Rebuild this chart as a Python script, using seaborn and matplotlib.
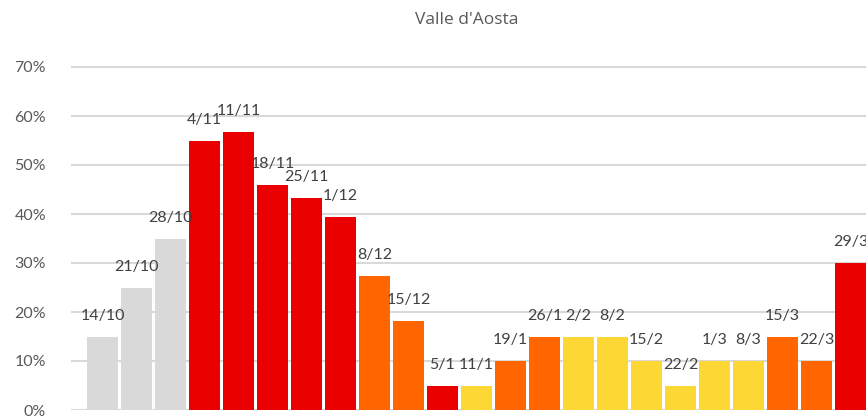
import matplotlib
matplotlib.use("Agg")
import matplotlib.pyplot as plt
import seaborn as sns
from matplotlib.ticker import PercentFormatter

# --- Datos ---
settimane = ["14/10", "21/10", "28/10", "4/11", "11/11", "18/11", "25/11", "1/12",
             "8/12", "15/12", "5/1", "11/1", "19/1", "26/1", "2/2", "8/2", "15/2",
             "22/2", "1/3", "8/3", "15/3", "22/3", "29/3"]
valori = [0.15, 0.25, 0.35, 0.55, 0.567, 0.46, 0.433, 0.394,
          0.273, 0.182, 0.05, 0.05, 0.10, 0.15, 0.15, 0.15, 0.10,
          0.05, 0.10, 0.10, 0.15, 0.10, 0.30]
zone = ["grigio", "grigio", "grigio", "rosso", "rosso", "rosso", "rosso", "rosso",
        "arancione", "arancione", "rosso", "giallo", "arancione", "arancione",
        "giallo", "giallo", "giallo", "giallo", "giallo", "giallo",
        "arancione", "arancione", "rosso"]
colori_zona = {"grigio": "#D9D9D9", "rosso": "#EB0000",
               "arancione": "#FF6600", "giallo": "#FDD835"}

palette = [colori_zona[z] for z in zone]

# --- Figura ---
W, H = 866, 416
fig = plt.figure(figsize=(W / 100, H / 100), dpi=100)
# eje: izquierda en x=71px, 0% en y=410px, 49px cada 10%
ymax = 0.75
ax = fig.add_axes([71 / W, 6 / H, (W - 71) / W, ymax * 490 / H])

sns.barplot(x=settimane, y=valori, hue=settimane, palette=palette,
            legend=False, width=0.91, saturation=1, ax=ax, zorder=2)

# posiciones: centro de la barra i en 102.5 + 34*i px
ax.set_xlim((71 - 102.5) / 34, (W - 102.5) / 34)
ax.set_ylim(0, ymax)
ax.set_yticks([0, 0.1, 0.2, 0.3, 0.4, 0.5, 0.6, 0.7])
ax.yaxis.set_major_formatter(PercentFormatter(1.0, decimals=0))
ax.grid(axis="y", color="#D9D9D9", linewidth=1.5, zorder=0)
ax.set_axisbelow(True)
ax.tick_params(axis="y", length=0, pad=18, labelsize=11.5, labelcolor="#595959")
ax.tick_params(axis="x", length=0, labelbottom=False)
for t in ax.get_yticklabels():
    t.set_fontfamily("Lato")
for s in ax.spines.values():
    s.set_visible(False)
ax.set_xlabel("")
ax.set_ylabel("")

# etiquetas de datos (nombre de la categoría)
for i, (lab, v) in enumerate(zip(settimane, valori)):
    ax.annotate(lab, (i, v), xytext=(0, 15), textcoords="offset points",
                ha="center", va="center", fontsize=11.5, color="#404040",
                family="Lato", clip_on=False, annotation_clip=False)

fig.text(467 / W, 1 - 20 / H, "Valle d'Aosta", ha="center", va="center",
         fontsize=12.5, color="#595959", family="Open Sans")

plt.savefig("out.png", dpi=100)
